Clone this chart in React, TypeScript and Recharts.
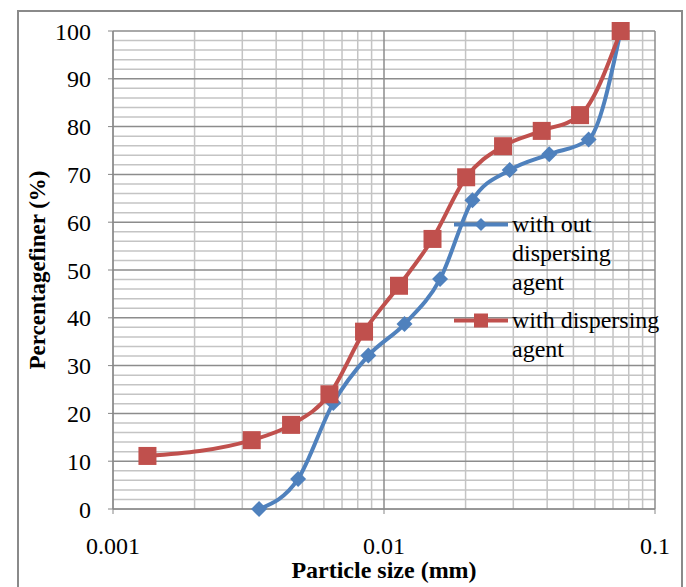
import React from 'react';
import { LineChart, Line, XAxis, YAxis, ReferenceLine, Legend, Label } from 'recharts';

const FONT = '"Liberation Serif", "Times New Roman", serif';

// axis ticks
const sizeTicks = [0.001, 0.01, 0.1];
const finerTicks = [0, 10, 20, 30, 40, 50, 60, 70, 80, 90, 100];
const minorSizes = [0.002, 0.003, 0.004, 0.005, 0.006, 0.007, 0.008, 0.009, 0.02, 0.03, 0.04, 0.05, 0.06, 0.07, 0.08, 0.09];
const minorFiner = [2, 4, 6, 8, 12, 14, 16, 18, 22, 24, 26, 28, 32, 34, 36, 38, 42, 44, 46, 48, 52, 54, 56, 58, 62, 64, 66, 68, 72, 74, 76, 78, 82, 84, 86, 88, 92, 94, 96, 98];

// with out dispersing agent
const withoutSize = [0.00346, 0.00482, 0.0065, 0.00875, 0.0119, 0.0161, 0.0212, 0.0291, 0.0407, 0.0569, 0.0747];
const withoutFiner = [0, 6.3, 22.2, 32.1, 38.7, 48.1, 64.6, 70.9, 74.2, 77.3, 100];

// with dispersing agent
const withSize = [0.00134, 0.00325, 0.00454, 0.00629, 0.00844, 0.01136, 0.0151, 0.0201, 0.0275, 0.0382, 0.0529, 0.0747];
const withFiner = [11.1, 14.4, 17.6, 24.0, 37.1, 46.7, 56.5, 69.4, 75.9, 79.1, 82.4, 100];

const seriesNames = ['with out dispersing agent', 'with dispersing agent'];
const seriesColors = ['#4F81BD', '#C0504D'];

const withoutData = withoutSize.map((x, i) => ({ size: x, finer: withoutFiner[i] }));
const withData = withSize.map((x, i) => ({ size: x, finer: withFiner[i] }));

const Diamond = (props: any) => {
  const { cx, cy, index } = props;
  if (cx == null || cy == null) return null;
  const r = 8;
  return (
    <polygon
      key={`d-${index}`}
      points={`${cx},${cy - r} ${cx + r},${cy} ${cx},${cy + r} ${cx - r},${cy}`}
      fill={seriesColors[0]}
    />
  );
};

const Square = (props: any) => {
  const { cx, cy, index } = props;
  if (cx == null || cy == null) return null;
  const s = 18;
  return <rect key={`s-${index}`} x={cx - s / 2} y={cy - s / 2} width={s} height={s} fill={seriesColors[1]} />;
};

const renderLegend = (props: any) => {
  const items = props.payload || [];
  return (
    <div style={{ fontFamily: FONT, fontSize: 24, lineHeight: '29px', color: '#000' }}>
      {items.map((entry: any, i: number) => (
        <div key={i} style={{ display: 'flex', alignItems: 'flex-start', marginBottom: 9 }}>
          <svg width={58} height={29} style={{ flex: 'none' }}>
            <line x1={0} y1={14.5} x2={54} y2={14.5} stroke={seriesColors[i]} strokeWidth={4} />
            {i === 0 ? (
              <polygon points="27,8 33.5,14.5 27,21 20.5,14.5" fill={seriesColors[0]} />
            ) : (
              <rect x={20} y={7.5} width={14} height={14} fill={seriesColors[1]} />
            )}
          </svg>
          <div style={{ width: 155 }}>{seriesNames[i]}</div>
        </div>
      ))}
    </div>
  );
};

export default function App() {
  return (
    <div style={{ position: 'absolute', left: 0, top: 0, width: 686, height: 587, overflow: 'hidden', background: '#fff' }}>
      <div
        style={{
          position: 'absolute',
          left: 17,
          top: 10,
          width: 666,
          height: 620,
          border: '2px solid #8a8a8a',
          boxSizing: 'border-box',
        }}
      />
      <LineChart
        width={686}
        height={587}
        margin={{ top: 31, right: 31, bottom: 0, left: 0 }}
        style={{ position: 'absolute', left: 0, top: 0, fontFamily: FONT }}
      >
        <XAxis
          dataKey="size"
          type="number"
          scale="log"
          domain={[0.001, 0.1]}
          ticks={sizeTicks}
          allowDataOverflow
          height={78}
          tickSize={5}
          tickMargin={23}
          stroke="#868686"
          tick={{ fill: '#000', fontSize: 24, fontFamily: FONT }}
        >
          <Label
            value="Particle size (mm)"
            position="insideBottom"
            offset={9}
            style={{ fontFamily: FONT, fontSize: 24, fontWeight: 'bold', fill: '#000' }}
          />
        </XAxis>
        <YAxis
          dataKey="finer"
          type="number"
          domain={[0, 100]}
          ticks={finerTicks}
          width={113}
          tickSize={5}
          tickMargin={17}
          stroke="#868686"
          tick={{ fill: '#000', fontSize: 24, fontFamily: FONT }}
        >
          <Label
            value="Percentagefiner (%)"
            angle={-90}
            position="insideLeft"
            offset={37}
            style={{ fontFamily: FONT, fontSize: 23, fontWeight: 'bold', fill: '#000', textAnchor: 'middle' }}
          />
        </YAxis>
        {minorSizes.map((v) => (
          <ReferenceLine key={`mx-${v}`} x={v} stroke="#c4c4c4" strokeWidth={1.5} />
        ))}
        {minorFiner.map((v) => (
          <ReferenceLine key={`my-${v}`} y={v} stroke="#c4c4c4" strokeWidth={1.5} />
        ))}
        {sizeTicks.map((v) => (
          <ReferenceLine key={`Mx-${v}`} x={v} stroke="#8c8c8c" strokeWidth={1.5} />
        ))}
        {finerTicks.map((v) => (
          <ReferenceLine key={`My-${v}`} y={v} stroke="#8c8c8c" strokeWidth={1.5} />
        ))}
        <Line
          data={withoutData}
          dataKey="finer"
          name={seriesNames[0]}
          type="monotone"
          stroke={seriesColors[0]}
          strokeWidth={4}
          dot={<Diamond />}
          activeDot={false}
          isAnimationActive={false}
        />
        <Line
          data={withData}
          dataKey="finer"
          name={seriesNames[1]}
          type="monotone"
          stroke={seriesColors[1]}
          strokeWidth={4}
          dot={<Square />}
          activeDot={false}
          isAnimationActive={false}
        />
        <Legend
          layout="horizontal"
          verticalAlign="middle"
          align="center"
          content={renderLegend}
          wrapperStyle={{ position: 'absolute', left: 454, top: 210, width: 230, height: 'auto' }}
        />
      </LineChart>
    </div>
  );
}
